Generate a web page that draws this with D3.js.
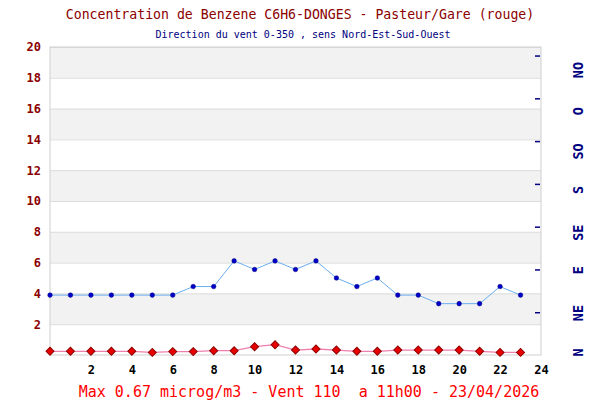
<!DOCTYPE html>
<html>
<head>
<meta charset="utf-8">
<script src="https://cdn.jsdelivr.net/npm/d3@7"></script>
<style>
    body { margin: 0; background: #fff; }
    #chart { width: 600px; height: 400px; }
    text { font-family: "DejaVu Sans Mono", "Liberation Mono", monospace; }
</style>
</head>
<body>
<div id="chart"></div>
<script>
//Datos
const hours = [0,1,2,3,4,5,6,7,8,9,10,11,12,13,14,15,16,17,18,19,20,21,22,23];
const benzene = [0.24,0.24,0.24,0.24,0.24,0.17,0.22,0.22,0.28,0.28,0.54,0.67,0.32,0.39,0.32,0.24,0.24,0.32,0.32,0.32,0.32,0.24,0.17,0.17];
const windDir = [70,70,70,70,70,70,70,80,80,110,100,110,100,110,90,80,90,70,70,60,60,60,80,70];
const xTicks = [2,4,6,8,10,12,14,16,18,20,22,24];
const yTicks = [2,4,6,8,10,12,14,16,18,20];
const windTicks = [50,100,150,200,250,300,350];
const windLabels = ['N','NE','E','SE','S','SO','O','NO'];
const windLabelDeg = [3,49,99,143,193,238,285,333];

const TITLE = 'Concentration de Benzene C6H6-DONGES - Pasteur/Gare (rouge)';
const SUBTITLE = 'Direction du vent 0-350 , sens Nord-Est-Sud-Ouest';
const FOOTER = 'Max 0.67 microg/m3 - Vent 110  a 11h00 - 23/04/2026';

//Colores
const COLOR_DARKRED = '#8b0000',
COLOR_NAVY = '#000080';

let margin = {top: 47, right: 59, bottom: 45, left: 50},
    width = 600 - margin.left - margin.right,
    height = 400 - margin.top - margin.bottom;

let root = d3.select('#chart')
    .append('svg')
        .attr('width', 600)
        .attr('height', 400);

let svg = root.append('g')
    .attr('transform', 'translate(' + margin.left + ',' + margin.top + ')');

let x = d3.scaleLinear().domain([0, 24]).range([0, width]);
let y = d3.scaleLinear().domain([0, 20]).range([height, 0]);
let w = d3.scaleLinear().domain([0, 360]).range([height, 0]);

//Bandas
svg.selectAll('.band')
    .data(yTicks.filter(function(d) { return (d / 2) % 2 == 1; }))
    .enter()
    .append('rect')
    .attr('x', 0)
    .attr('width', width)
    .attr('y', function(d) { return y(d + 2); })
    .attr('height', function(d) { return y(d) - y(d + 2); })
    .attr('fill', '#f2f2f2');

//Eje Y
svg.append('g')
    .call(d3.axisLeft(y).tickValues(yTicks).tickSize(-width).tickPadding(9))
    .call(function(g) {
        g.select('.domain').remove();
        g.selectAll('.tick line').attr('stroke', '#dcdcdc');
        g.selectAll('.tick text')
            .attr('fill', COLOR_DARKRED)
            .style('font-size', '12px')
            .style('font-weight', 'bold');
    });

//Eje X
svg.append('g')
    .attr('transform', 'translate(0,' + height + ')')
    .call(d3.axisBottom(x).tickValues(xTicks).tickSize(0).tickPadding(10))
    .call(function(g) {
        g.select('.domain').remove();
        g.selectAll('.tick text')
            .attr('fill', '#000')
            .style('font-size', '12px')
            .style('font-weight', 'bold');
    });

//Borde
svg.append('rect')
    .attr('width', width)
    .attr('height', height)
    .attr('fill', 'none')
    .attr('stroke', '#cfcfcf');

//Eje viento
svg.append('g')
    .attr('transform', 'translate(' + (width - 1) + ',0)')
    .call(d3.axisLeft(w).tickValues(windTicks).tickSize(5).tickFormat(''))
    .call(function(g) {
        g.select('.domain').remove();
        g.selectAll('.tick line').attr('stroke', COLOR_NAVY).attr('stroke-width', 1.5);
    });

svg.selectAll('.wind-label')
    .data(windLabels)
    .enter()
    .append('text')
    .attr('transform', function(d, i) { return 'translate(' + (width + 37) + ',' + w(windLabelDeg[i]) + ') rotate(-90)'; })
    .attr('text-anchor', 'middle')
    .attr('dy', '0.35em')
    .attr('fill', COLOR_NAVY)
    .style('font-size', '13.5px')
    .style('font-weight', 'bold')
    .text(function(d) { return d; });

//Viento
svg.append('path')
    .datum(hours)
    .attr('fill', 'none')
    .attr('stroke', '#6aaef0')
    .attr('stroke-width', 1)
    .attr('d', d3.line().x(function(d) { return x(d); }).y(function(d, i) { return w(windDir[i]); }));

svg.selectAll('.wind-dot')
    .data(hours)
    .enter()
    .append('circle')
    .attr('cx', function(d) { return x(d); })
    .attr('cy', function(d, i) { return w(windDir[i]); })
    .attr('r', 2.3)
    .attr('fill', '#0000c8')
    .attr('stroke', '#000080')
    .attr('stroke-width', 0.5);

//Benceno
svg.append('path')
    .datum(hours)
    .attr('fill', 'none')
    .attr('stroke', '#ee7fae')
    .attr('stroke-width', 1.3)
    .attr('d', d3.line().x(function(d) { return x(d); }).y(function(d, i) { return y(benzene[i]); }));

svg.selectAll('.benz-dot')
    .data(hours)
    .enter()
    .append('path')
    .attr('transform', function(d, i) { return 'translate(' + x(d) + ',' + y(benzene[i]) + ') rotate(45)'; })
    .attr('d', d3.symbol().type(d3.symbolSquare).size(32))
    .attr('fill', '#e80000')
    .attr('stroke', '#900000')
    .attr('stroke-width', 1);

//Textos
root.append('text')
    .attr('x', 300)
    .attr('y', 19)
    .attr('text-anchor', 'middle')
    .attr('fill', COLOR_DARKRED)
    .style('font-size', '13.2px')
    .text(TITLE);

root.append('text')
    .attr('x', 303)
    .attr('y', 38)
    .attr('text-anchor', 'middle')
    .attr('fill', COLOR_NAVY)
    .style('font-size', '10px')
    .text(SUBTITLE);

root.append('text')
    .attr('x', 309)
    .attr('y', 397)
    .attr('text-anchor', 'middle')
    .attr('fill', '#ff0000')
    .style('font-size', '15px')
    .style('white-space', 'pre')
    .text(FOOTER);
</script>
</body>
</html>
